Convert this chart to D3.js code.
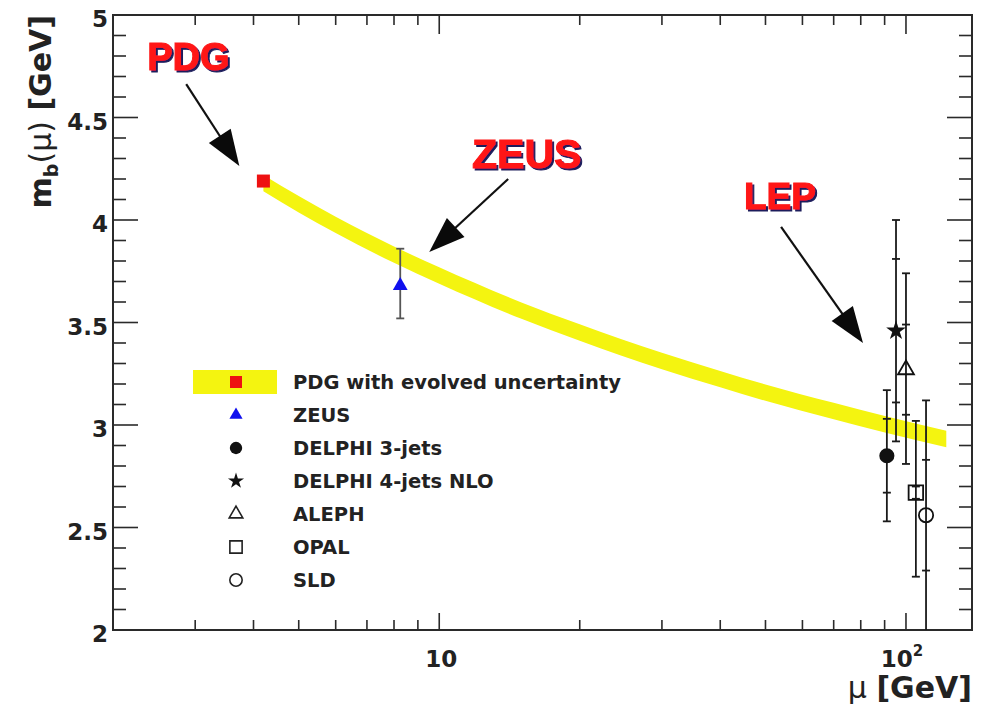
<!DOCTYPE html>
<html>
<head>
<meta charset="utf-8">
<script src="https://cdn.jsdelivr.net/npm/d3@7"></script>
<style>
  body { margin: 0; background: #fff; }
  svg { display: block; }
</style>
</head>
<body>
<svg id="chart" width="987" height="709"></svg>
<script>
// ---- data ---------------------------------------------------------------
// PDG m_b(m_b) evolved to higher scales (band centre and half-width, GeV)
const bandMu   = [4.2, 5, 6, 8, 10, 15, 20, 30, 40, 50, 70, 91, 122];
const bandMass = [4.180, 4.077, 3.976, 3.831, 3.729, 3.558, 3.451, 3.312, 3.224,
                  3.158, 3.068, 3.001, 2.932];
const bandHalfWidth = 0.04;

// PDG starting point
const pdgMu = 4.2;
const pdgMass = 4.19;

// measurements: plotted scale, central value, inner (stat) and total errors
const expNames   = ["ZEUS", "DELPHI 3-jets", "DELPHI 4-jets NLO", "ALEPH", "OPAL", "SLD"];
const expMu      = [8.25, 91.0, 95.2, 100, 105, 110.4];
const expMass    = [3.68, 2.85, 3.46, 3.27, 2.67, 2.56];
const expInner   = [0,    0.18, 0.35, 0.22, 0.03, 0.27];
const expTotUp   = [0.18, 0.32, 0.54, 0.47, 0.35, 0.56];
const expTotDown = [0.16, 0.32, 0.54, 0.46, 0.41, 1.58];

// axis ticks
const yMajorTicks = [2, 2.5, 3, 3.5, 4, 4.5, 5];
const yTickLabels = ["2", "2.5", "3", "3.5", "4", "4.5", "5"];
const xMajorTicks = [10, 100];
const xTickBase   = ["10", "10"];
const xTickExp    = ["", "2"];
const xMinorTicks = [3, 4, 5, 6, 7, 8, 9, 20, 30, 40, 50, 60, 70, 80, 90];

// legend entries
const legendLabels = ["PDG with evolved uncertainty", "ZEUS", "DELPHI 3-jets",
                      "DELPHI 4-jets NLO", "ALEPH", "OPAL", "SLD"];

// annotation labels with arrows (label anchor, arrow start, arrow tip) in data units
const noteText  = ["PDG", "ZEUS", "LEP"];
const noteMu    = [2.90, 15.4, 53.7];
const noteMass  = [4.73, 4.254, 4.054];
const noteSize  = [38, 41, 37];
const arrowFromMu   = [2.87, 14.05, 54.0];
const arrowFromMass = [4.663, 4.20, 3.966];
const arrowToMu     = [3.73, 9.52, 80.9];
const arrowToMass   = [4.263, 3.844, 3.40];

// ---- layout -------------------------------------------------------------
const svg = d3.select("#chart");
const plot = { left: 113, right: 972, top: 15, bottom: 630 };

const x = d3.scaleLog().domain([2, 138.5]).range([plot.left, plot.right]);
const y = d3.scaleLinear().domain([2, 5]).range([plot.bottom, plot.top]);

const axisColor = "#2a2a2a";
const labelFont = "'DejaVu Sans', sans-serif";

const defs = svg.append("defs");
defs.append("clipPath").attr("id", "plotClip")
  .append("rect")
  .attr("x", plot.left).attr("y", plot.top)
  .attr("width", plot.right - plot.left).attr("height", plot.bottom - plot.top);

// dark offset shadow for the red annotation words
const shadow = defs.append("filter").attr("id", "noteShadow")
  .attr("x", "-10%").attr("y", "-20%").attr("width", "130%").attr("height", "150%");
shadow.append("feDropShadow")
  .attr("dx", 2).attr("dy", 2).attr("stdDeviation", 0.6)
  .attr("flood-color", "#1e1e5c").attr("flood-opacity", 1);

// ---- band ---------------------------------------------------------------
const bandData = bandMu.map((m, i) => ({ mu: m, mass: bandMass[i] }));
const band = d3.area()
  .x(d => x(d.mu))
  .y0(d => y(d.mass - bandHalfWidth))
  .y1(d => y(d.mass + bandHalfWidth))
  .curve(d3.curveMonotoneX);

svg.append("path")
  .datum(bandData)
  .attr("d", band)
  .attr("fill", "#f4f410");

// ---- frame & ticks ------------------------------------------------------
const ticks = svg.append("g").attr("stroke", axisColor).attr("stroke-width", 1.6);

// y ticks on both sides, every 0.1 GeV
const yAll = d3.range(20, 51).map(v => v / 10);
yAll.forEach(v => {
  const major = Math.abs(v * 2 - Math.round(v * 2)) < 1e-6;
  const len = major ? 25 : 13;
  ticks.append("line")
    .attr("x1", plot.left).attr("x2", plot.left + len)
    .attr("y1", y(v)).attr("y2", y(v));
  ticks.append("line")
    .attr("x1", plot.right).attr("x2", plot.right - len)
    .attr("y1", y(v)).attr("y2", y(v));
});

// x ticks on bottom and top
xMinorTicks.forEach(v => {
  ticks.append("line").attr("x1", x(v)).attr("x2", x(v))
    .attr("y1", plot.bottom).attr("y2", plot.bottom - 10);
  ticks.append("line").attr("x1", x(v)).attr("x2", x(v))
    .attr("y1", plot.top).attr("y2", plot.top + 10);
});
xMajorTicks.forEach(v => {
  ticks.append("line").attr("x1", x(v)).attr("x2", x(v))
    .attr("y1", plot.bottom).attr("y2", plot.bottom - 17);
  ticks.append("line").attr("x1", x(v)).attr("x2", x(v))
    .attr("y1", plot.top).attr("y2", plot.top + 19);
});

svg.append("rect")
  .attr("x", plot.left).attr("y", plot.top)
  .attr("width", plot.right - plot.left).attr("height", plot.bottom - plot.top)
  .attr("fill", "none").attr("stroke", axisColor).attr("stroke-width", 2);

// tick labels
svg.append("g").selectAll("text")
  .data(yMajorTicks)
  .join("text")
  .attr("x", plot.left - 5)
  .attr("y", d => y(d) + 12)
  .attr("text-anchor", "end")
  .attr("font-family", labelFont).attr("font-weight", "bold")
  .attr("font-size", 23).attr("fill", "#222")
  .text((d, i) => yTickLabels[i]);

const xl = svg.append("g").selectAll("text")
  .data(xMajorTicks)
  .join("text")
  .attr("x", (d, i) => x(d) + (xTickExp[i] ? -4 : 2))
  .attr("y", 667)
  .attr("text-anchor", "middle")
  .attr("font-family", labelFont).attr("font-weight", "bold")
  .attr("font-size", 23).attr("fill", "#222");
xl.append("tspan").text((d, i) => xTickBase[i]);
xl.append("tspan")
  .attr("dy", -11).attr("font-size", 15)
  .text((d, i) => xTickExp[i]);

// axis titles
svg.append("text")
  .attr("x", plot.right).attr("y", 698)
  .attr("text-anchor", "end")
  .attr("font-family", labelFont).attr("font-size", 30).attr("fill", "#222")
  .call(t => {
    t.append("tspan").attr("font-weight", "normal").text("μ ");
    t.append("tspan").attr("font-weight", "bold").text("[GeV]");
  });

svg.append("text")
  .attr("transform", `translate(51,${plot.top}) rotate(-90)`)
  .attr("text-anchor", "end")
  .attr("font-family", labelFont).attr("font-size", 30).attr("fill", "#222")
  .call(t => {
    t.append("tspan").attr("font-weight", "bold").text("m");
    t.append("tspan").attr("font-weight", "bold").attr("font-size", 19).attr("dy", 7).text("b");
    t.append("tspan").attr("font-weight", "normal").attr("dy", -7).text("(μ)");
    t.append("tspan").attr("font-weight", "bold").text(" [GeV]");
  });

// ---- measurements -------------------------------------------------------
const pts = expNames.map((n, i) => ({
  name: n, mu: expMu[i], mass: expMass[i], inner: expInner[i],
  up: expTotUp[i], down: expTotDown[i]
}));

const bars = svg.append("g").attr("clip-path", "url(#plotClip)");
pts.forEach((p, i) => {
  const cx = x(p.mu);
  const col = i === 0 ? "#555" : "#1a1a1a";
  const g = bars.append("g").attr("stroke", col).attr("stroke-width", 1.8);
  g.append("line").attr("x1", cx).attr("x2", cx)
    .attr("y1", y(p.mass + p.up)).attr("y2", y(p.mass - p.down));
  [p.mass + p.up, p.mass - p.down].forEach(v => {
    g.append("line").attr("x1", cx - 4).attr("x2", cx + 4)
      .attr("y1", y(v)).attr("y2", y(v));
  });
  if (p.inner > 0) {
    [p.mass + p.inner, p.mass - p.inner].forEach(v => {
      g.append("line").attr("x1", cx - 4).attr("x2", cx + 4)
        .attr("y1", y(v)).attr("y2", y(v));
    });
  }
});

// marker styles per experiment
const markerStyle = [
  { type: d3.symbolTriangle, size: 95, fill: "#1010ee", stroke: "none" },
  { type: d3.symbolCircle,   size: 180, fill: "#111", stroke: "none" },
  { type: d3.symbolStar,     size: 120, fill: "#111", stroke: "none" },
  { type: d3.symbolTriangle, size: 110, fill: "none", stroke: "#111" },
  { type: d3.symbolSquare,   size: 210, fill: "none", stroke: "#111" },
  { type: d3.symbolCircle,   size: 160, fill: "none", stroke: "#111" }
];
const legendStyle = [
  { type: d3.symbolTriangle, size: 75, fill: "#1010ee", stroke: "none" },
  { type: d3.symbolCircle,   size: 120, fill: "#111", stroke: "none" },
  { type: d3.symbolStar,     size: 80, fill: "#111", stroke: "none" },
  { type: d3.symbolTriangle, size: 80, fill: "none", stroke: "#222" },
  { type: d3.symbolSquare,   size: 150, fill: "none", stroke: "#222" },
  { type: d3.symbolCircle,   size: 120, fill: "none", stroke: "#222" }
];

svg.append("g").selectAll("path")
  .data(pts)
  .join("path")
  .attr("transform", d => `translate(${x(d.mu)},${y(d.mass)})`)
  .attr("d", (d, i) => d3.symbol().type(markerStyle[i].type).size(markerStyle[i].size)())
  .attr("fill", (d, i) => markerStyle[i].fill)
  .attr("stroke", (d, i) => markerStyle[i].stroke)
  .attr("stroke-width", 1.8);

// PDG square
svg.append("rect")
  .attr("x", x(pdgMu) - 6.5).attr("y", y(pdgMass) - 6.5)
  .attr("width", 13).attr("height", 13)
  .attr("fill", "#ee1111");

// ---- legend -------------------------------------------------------------
const leg = svg.append("g");
const legX = 236, legTextX = 293, legY0 = 382, legDY = 33;
leg.append("rect")
  .attr("x", 193).attr("y", legY0 - 12).attr("width", 84).attr("height", 24)
  .attr("fill", "#f4f410");
leg.append("rect")
  .attr("x", legX - 6).attr("y", legY0 - 6).attr("width", 12).attr("height", 12)
  .attr("fill", "#ee1111");
legendStyle.forEach((s, i) => {
  leg.append("path")
    .attr("transform", `translate(${legX},${legY0 + (i + 1) * legDY})`)
    .attr("d", d3.symbol().type(s.type).size(s.size)())
    .attr("fill", s.fill).attr("stroke", s.stroke).attr("stroke-width", 1.6);
});
leg.selectAll("text")
  .data(legendLabels)
  .join("text")
  .attr("x", legTextX)
  .attr("y", (d, i) => legY0 + i * legDY + 7)
  .attr("font-family", labelFont).attr("font-weight", "bold")
  .attr("font-size", 19.5).attr("fill", "#222")
  .text(d => d);

// ---- annotations --------------------------------------------------------
const notes = svg.append("g");
noteText.forEach((t, i) => {
  const x0 = x(arrowFromMu[i]), y0 = y(arrowFromMass[i]);
  const x1 = x(arrowToMu[i]),   y1 = y(arrowToMass[i]);
  const dx = x1 - x0, dy = y1 - y0, L = Math.hypot(dx, dy);
  const ux = dx / L, uy = dy / L;
  const headLen = 36, headHalf = 13;
  const bx = x1 - ux * headLen, by = y1 - uy * headLen;
  notes.append("line")
    .attr("x1", x0).attr("y1", y0).attr("x2", bx + ux * 4).attr("y2", by + uy * 4)
    .attr("stroke", "#111").attr("stroke-width", 2.2);
  notes.append("path")
    .attr("d", `M${x1},${y1} L${bx - uy * headHalf},${by + ux * headHalf} L${bx + uy * headHalf},${by - ux * headHalf} Z`)
    .attr("fill", "#0a0a0a");

  notes.append("text")
    .attr("x", x(noteMu[i])).attr("y", y(noteMass[i]))
    .attr("text-anchor", "middle")
    .attr("font-family", "'Liberation Sans', Arial, sans-serif").attr("font-weight", "bold")
    .attr("font-size", noteSize[i]).attr("fill", "#ff1414")
    .attr("stroke", "#ff1414").attr("stroke-width", 1)
    .attr("filter", "url(#noteShadow)")
    .text(t);
});
</script>
</body>
</html>
